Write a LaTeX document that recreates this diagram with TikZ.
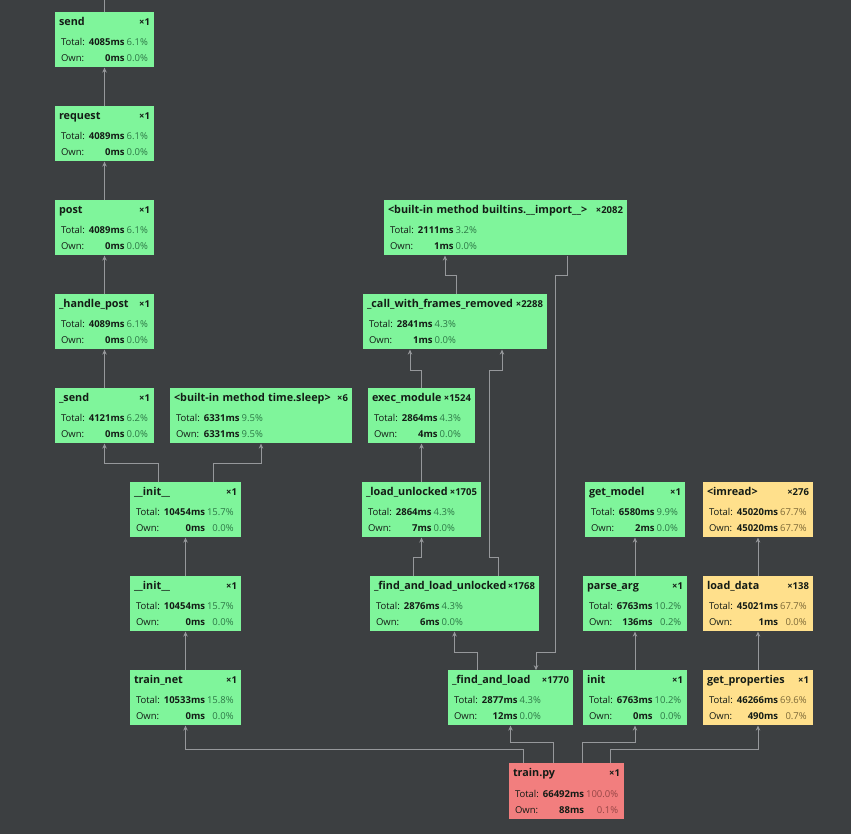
\documentclass[tikz,border=0pt]{standalone}
\usepackage{fontspec}
\setmainfont{Open Sans}
\usetikzlibrary{arrows.meta}

\definecolor{bg}{RGB}{60,63,65}
\definecolor{fngreen}{RGB}{127,245,155}
\definecolor{fnyellow}{RGB}{255,224,140}
\definecolor{fnred}{RGB}{242,126,126}
\definecolor{pctgreen}{RGB}{45,120,70}
\definecolor{pctyellow}{RGB}{125,105,55}
\definecolor{pctred}{RGB}{150,70,70}
\definecolor{wire}{RGB}{150,152,155}
\definecolor{ink}{RGB}{20,28,22}

\newcommand{\fn}[6]{%
\makebox[\hsize][l]{\rule{0pt}{10.8pt}\fontsize{10.8}{12}\selectfont\textbf{#1}\hfill\fontsize{9.5}{11}\selectfont\textbf{×#2}}\\[8.5pt]%
\hspace*{2pt}{\fontsize{9.5}{11}\selectfont%
\begin{tabular}[t]{@{}l@{\hspace{4pt}}r@{\hspace{2pt}}r@{}}%
Total: & \textbf{#3ms} & \textcolor{pct}{#4\%}\\[5pt]
Own: & \textbf{#5ms} & \textcolor{pct}{#6\%}%
\end{tabular}}}

\begin{document}
\begin{tikzpicture}[x=1pt,y=-1pt,
    fn/.style={rectangle,inner xsep=4pt,inner ysep=0pt,minimum height=55pt,align=left,text=ink},
    boxw/.style={text width=#1pt,minimum width=#1pt+8pt},
    green/.style={fn,fill=fngreen,execute at begin node={\colorlet{pct}{pctgreen}}},
    yellow/.style={fn,fill=fnyellow,execute at begin node={\colorlet{pct}{pctyellow}}},
    red/.style={fn,fill=fnred,execute at begin node={\colorlet{pct}{pctred}}},
    call/.style={draw=wire,line width=0.8pt,-{Stealth[length=5pt,width=4.5pt]}},
    link/.style={draw=wire,line width=0.8pt}]
    \fill[bg] (0,0) rectangle (851,834);
            \node[green,boxw=91] at (104.5,39.5) (send) {\fn{send}{1}{4085}{6.1}{0}{0.0}};
            \node[green,boxw=91] at (104.5,133.5) (request) {\fn{request}{1}{4089}{6.1}{0}{0.0}};
            \node[green,boxw=91] at (104.5,227.5) (post) {\fn{post}{1}{4089}{6.1}{0}{0.0}};
            \node[green,boxw=91] at (104.5,321.5) (hpost) {\fn{\_handle\_post}{1}{4089}{6.1}{0}{0.0}};
            \node[green,boxw=91] at (104.5,415.5) (sendb) {\fn{\_send}{1}{4121}{6.2}{0}{0.0}};
            \node[green,boxw=174] at (261,415.5) (sleep) {\fn{<built-in method time.sleep>}{6}{6331}{9.5}{6331}{9.5}};
            \node[green,boxw=103] at (185.5,509.5) (inita) {\fn{\_\_init\_\_}{1}{10454}{15.7}{0}{0.0}};
            \node[green,boxw=103] at (185.5,603.5) (initb) {\fn{\_\_init\_\_}{1}{10454}{15.7}{0}{0.0}};
            \node[green,boxw=103] at (185.5,697.5) (trainnet) {\fn{train\_net}{1}{10533}{15.8}{0}{0.0}};
            \node[green,boxw=235] at (505.5,227.5) (imp) {\fn{<built-in method builtins.\_\_import\_\_>}{2082}{2111}{3.2}{1}{0.0}};
            \node[green,boxw=176] at (455,321.5) (callfr) {\fn{\_call\_with\_frames\_removed}{2288}{2841}{4.3}{1}{0.0}};
            \node[green,boxw=99] at (421.5,415.5) (exec) {\fn{exec\_module}{1524}{2864}{4.3}{4}{0.0}};
            \node[green,boxw=111] at (421.5,509.5) (loadunl) {\fn{\_load\_unlocked}{1705}{2864}{4.3}{7}{0.0}};
            \node[green,boxw=161] at (454.5,603.5) (fandlu) {\fn{\_find\_and\_load\_unlocked}{1768}{2876}{4.3}{6}{0.0}};
            \node[green,boxw=117] at (510.5,697.5) (fandl) {\fn{\_find\_and\_load}{1770}{2877}{4.3}{12}{0.0}};
            \node[green,boxw=92] at (635,509.5) (getmodel) {\fn{get\_model}{1}{6580}{9.9}{2}{0.0}};
            \node[green,boxw=96] at (635,603.5) (parse) {\fn{parse\_arg}{1}{6763}{10.2}{136}{0.2}};
            \node[green,boxw=96] at (635,697.5) (initp) {\fn{init}{1}{6763}{10.2}{0}{0.0}};
            \node[yellow,boxw=102] at (758,509.5) (imread) {\fn{<imread>}{276}{45020}{67.7}{45020}{67.7}};
            \node[yellow,boxw=102] at (758,603.5) (loaddata) {\fn{load\_data}{138}{45021}{67.7}{1}{0.0}};
            \node[yellow,boxw=102] at (758,697.5) (getprop) {\fn{get\_properties}{1}{46266}{69.6}{490}{0.7}};
            \node[red,boxw=107,minimum height=56pt] at (566.5,791) (trainpy) {\fn{train.py}{1}{66492}{100.0}{88}{0.1}};
            \coordinate (above) at (104.5,0);
            \draw[link] (send) to (above);
            \draw[call] (request) to (send);
            \draw[call] (post) to (request);
            \draw[call] (hpost) to (post);
            \draw[call] (sendb) to (hpost);
            \draw[call] ([xshift=-27.5]inita.north) -- ++(0,-19) -| (sendb);
            \draw[call] ([xshift=27.5]inita.north) -- ++(0,-19) -| (sleep);
            \draw[call] (initb) to (inita);
            \draw[call] (trainnet) to (initb);
            \draw[call] ([xshift=-43.5]trainpy.north) -- ++(0,-14) -| (trainnet);
            \draw[call] ([xshift=-13.5]trainpy.north) -- ++(0,-21) -| (fandl);
            \draw[call] ([xshift=15.5]trainpy.north) -- ++(0,-21) -| (initp);
            \draw[call] ([xshift=43.5]trainpy.north) -- ++(0,-14) -| (getprop);
            \draw[call] (initp) to (parse);
            \draw[call] (parse) to (getmodel);
            \draw[call] (getprop) to (loaddata);
            \draw[call] (loaddata) to (imread);
            \draw[call] ([xshift=-33.5]fandl.north) -- ++(0,-18) -| (fandlu);
            \draw[call] ([xshift=61.5]imp.south) -- ++(0,20) -- ++(-12,0) -- ++(0,377) -| ([xshift=25.5]fandl.north);
            \draw[call] ([xshift=-41.5]fandlu.north) -- ++(0,-19) -| (loadunl);
            \draw[call] ([xshift=43.5]fandlu.north) -- ++(0,-19) -- ++(-9,0) -- ++(0,-187) -| ([xshift=47]callfr.south);
            \draw[call] (loadunl) to (exec);
            \draw[call] (exec.north) -- ++(0,-18) -| ([xshift=-45]callfr.south);
            \draw[call] ([xshift=1]callfr.north) -- ++(0,-19) -| ([xshift=-60.5]imp.south);
        \end{tikzpicture}
\end{document}
